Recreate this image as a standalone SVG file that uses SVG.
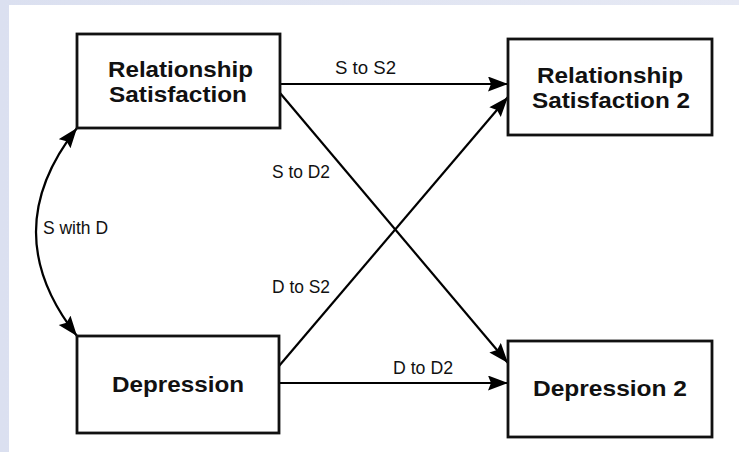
<svg xmlns="http://www.w3.org/2000/svg" width="739" height="452" viewBox="0 0 739 452">
<defs>
<linearGradient id="bg" x1="0" y1="0" x2="1" y2="0">
<stop offset="0" stop-color="#dbe0f0"/>
<stop offset="1" stop-color="#e6e9f4"/>
</linearGradient>
<marker id="ah" markerUnits="userSpaceOnUse" markerWidth="22" markerHeight="16" refX="20" refY="7.5" orient="auto-start-reverse">
<path d="M0,0 L20,7.5 L0,15 L3,7.5 z" fill="#000"/>
</marker>
<style>
.box{fill:#fff;stroke:#111;stroke-width:2.8}
.t{font-family:"Liberation Sans",Arial,sans-serif;font-weight:bold;font-size:22px;fill:#111}
.l{font-family:"Liberation Sans",Arial,sans-serif;font-size:17.5px;fill:#111}
.c{fill:none;stroke:#000;stroke-width:2.2;marker-end:url(#ah)}
</style>
</defs>
<rect x="0" y="0" width="739" height="452" fill="url(#bg)"/>
<rect x="9" y="5" width="730" height="447" fill="#fff"/>
<g id="connectors">
<line class="c" x1="280" y1="84" x2="508" y2="84"/>
<line class="c" x1="280" y1="93" x2="508" y2="363"/>
<line class="c" x1="279" y1="366" x2="508" y2="97"/>
<line class="c" x1="279" y1="383" x2="508" y2="383"/>
<path class="c" d="M77,128 Q-5,232 77,336" marker-start="url(#ah)"/>
<text class="l" x="335" y="74" textLength="61" lengthAdjust="spacingAndGlyphs">S to S2</text>
<text class="l" x="272" y="178" textLength="58" lengthAdjust="spacingAndGlyphs">S to D2</text>
<text class="l" x="272" y="293" textLength="58" lengthAdjust="spacingAndGlyphs">D to S2</text>
<text class="l" x="393" y="374" textLength="60" lengthAdjust="spacingAndGlyphs">D to D2</text>
<text class="l" x="43" y="234" textLength="65" lengthAdjust="spacingAndGlyphs">S with D</text>
</g>
<g id="rs">
<rect class="box" x="77" y="34" width="203" height="94"/>
<text class="t" x="108" y="77" textLength="145" lengthAdjust="spacingAndGlyphs">Relationship</text>
<text class="t" x="109" y="102" textLength="138" lengthAdjust="spacingAndGlyphs">Satisfaction</text>
</g>
<g id="rs2">
<rect class="box" x="508" y="39" width="204" height="96"/>
<text class="t" x="537" y="83" textLength="146" lengthAdjust="spacingAndGlyphs">Relationship</text>
<text class="t" x="532" y="108" textLength="158" lengthAdjust="spacingAndGlyphs">Satisfaction 2</text>
</g>
<g id="dep">
<rect class="box" x="77" y="336" width="202" height="97"/>
<text class="t" x="112" y="392" textLength="132" lengthAdjust="spacingAndGlyphs">Depression</text>
</g>
<g id="dep2">
<rect class="box" x="508" y="341" width="204" height="96"/>
<text class="t" x="533" y="396" textLength="154" lengthAdjust="spacingAndGlyphs">Depression 2</text>
</g>
</svg>
